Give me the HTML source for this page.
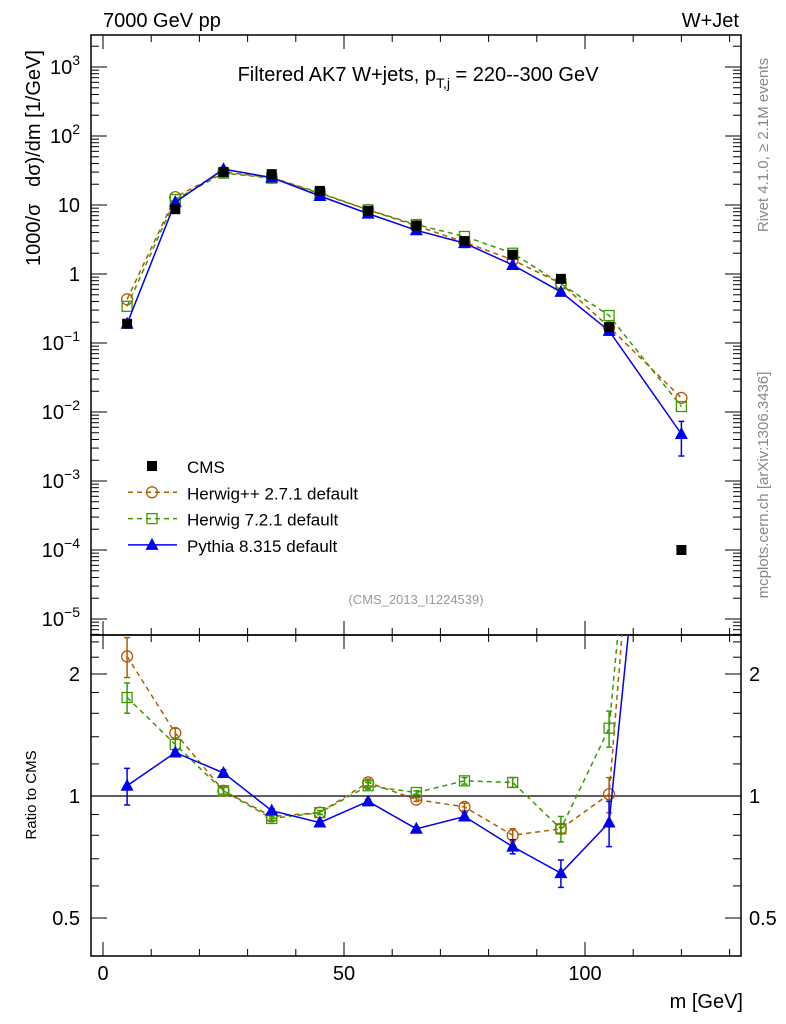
<!DOCTYPE html>
<html><head><meta charset="utf-8">
<style>
html,body{margin:0;padding:0;background:#fff;}
svg{display:block;font-family:"Liberation Sans",Arial,sans-serif;}
</style></head>
<body>
<svg id="chart" width="786" height="1024" viewBox="0 0 786 1024" xmlns="http://www.w3.org/2000/svg">
<defs>
<clipPath id="clipMain"><rect x="91" y="35" width="650" height="600"/></clipPath>
<clipPath id="clipRatio"><rect x="91" y="635" width="650" height="321"/></clipPath>
</defs>
<text x="103" y="27" font-size="20">7000 GeV pp</text>
<text x="739" y="27" font-size="20" text-anchor="end">W+Jet</text>
<text x="418" y="81" font-size="20" text-anchor="middle">Filtered AK7 W+jets, p<tspan font-size="14" dy="7">T,j</tspan><tspan dy="-7"> = 220--300 GeV</tspan></text>
<text transform="translate(40,158) rotate(-90)" font-size="20" text-anchor="middle">1000/σ&#160;&#160;&#160;dσ)/dm [1/GeV]</text>
<text transform="translate(36,795) rotate(-90)" font-size="15" text-anchor="middle">Ratio to CMS</text>
<text x="743" y="1008" font-size="20" text-anchor="end">m [GeV]</text>
<text transform="translate(768,145) rotate(-90)" font-size="15" fill="#888" text-anchor="middle">Rivet 4.1.0, ≥ 2.1M events</text>
<text transform="translate(768,485) rotate(-90)" font-size="15" fill="#888" text-anchor="middle">mcplots.cern.ch [arXiv:1306.3436]</text>
<text x="416" y="604" font-size="13" fill="#999" text-anchor="middle">(CMS_2013_I1224539)</text>
<g id="axes"></g>
<g id="mainmarks" clip-path="url(#clipMain)"></g>
<g id="ratiomarks" clip-path="url(#clipRatio)"></g>
<g id="legend"></g>
</svg>
<script>
const xCenters=[5,15,25,35,45,55,65,75,85,95,105,120];
const cmsVals=[0.19,8.7,30,28,16,8.2,5.0,3.0,1.9,0.85,0.17,0.0001];
const hppVals=[0.43,13,30,25,15,8.5,5.0,2.9,1.6,0.73,0.17,0.016];
const h7Vals=[0.34,12,29,24.5,14.7,8.5,5.2,3.5,2.0,0.72,0.25,0.012];
const pyVals=[0.19,11,33,25,13.5,7.5,4.3,2.8,1.35,0.55,0.15,0.0048];
const pyValsErr=[0,0,0,0,0,0,0,0,0,0,0.02,0.0025];
const hppRatio=[2.21,1.43,1.03,0.89,0.91,1.08,0.98,0.94,0.80,0.83,1.01,160];
const h7Ratio=[1.75,1.34,1.03,0.88,0.91,1.06,1.02,1.09,1.08,0.83,1.47,120];
const pyRatio=[1.06,1.28,1.14,0.92,0.86,0.97,0.83,0.89,0.75,0.645,0.86,48];
const pyRatioErr=[0.11,0.02,0.02,0.01,0.01,0.01,0.01,0.02,0.03,0.05,0.11,0];
const hppRatioErr=[0.25,0.04,0.02,0.01,0.01,0.02,0.01,0.02,0.03,0.02,0.1,0];
const h7RatioErr=[0.15,0.04,0.02,0.01,0.01,0.02,0.01,0.02,0.03,0.06,0.15,0];
const xTickLabels=[0,50,100];
const ratioTickLabels=[0.5,1,2];

const NS="http://www.w3.org/2000/svg";
const X=v=>103+v*4.82;
const Y=v=>274-69*Math.log10(v);
const R=v=>796-122*Math.log2(v);
function mk(parent,tag,attrs){const e=document.createElementNS(NS,tag);for(const k in attrs)e.setAttribute(k,attrs[k]);parent.appendChild(e);return e;}
const axes=document.getElementById('axes');
const mm=document.getElementById('mainmarks');
const rm=document.getElementById('ratiomarks');
const lg=document.getElementById('legend');

let f1=mk(axes,'rect',{x:91,y:35,width:650,height:600,fill:'none',stroke:'#000','stroke-width':1.5});


let f2=mk(axes,'rect',{x:91,y:635,width:650,height:321,fill:'none',stroke:'#000','stroke-width':1.5});



for(let v=0;v<=130;v+=10){
  const major=v%50===0, L=major?14:7;
  for(const [top,bot] of [[35,635],[635,956]]){
    mk(axes,'line',{x1:X(v),x2:X(v),y1:top,y2:top+L,stroke:'#000'});
    mk(axes,'line',{x1:X(v),x2:X(v),y1:bot,y2:bot-L,stroke:'#000'});
  }
}
xTickLabels.forEach(v=>{
  const t=mk(axes,'text',{x:X(v),y:980,'font-size':20,'text-anchor':'middle'});
  
  
  t.textContent=v;
});
for(let d=-6;d<=3;d++){
  for(let m=1;m<=9;m++){
    const v=m*Math.pow(10,d),y=Y(v);
    if(y<35||y>635)continue;
    const L=m===1?16:8;
    mk(axes,'line',{x1:91,x2:91+L,y1:y,y2:y,stroke:'#000'});
    mk(axes,'line',{x1:741,x2:741-L,y1:y,y2:y,stroke:'#000'});
  }
  const y=Y(Math.pow(10,d));
  if(y<35||y>635)continue;
  const t=mk(axes,'text',{x:80,y:y+7,'font-size':20,'text-anchor':'end'});
  
  
  if(d===0)t.textContent='1';else if(d===1)t.textContent='10';
  else{t.textContent='10';const s=mk(t,'tspan',{'font-size':14,dy:-9});s.textContent=d<0?'−'+(-d):String(d);}
}
[0.5,0.6,0.7,0.8,0.9,1,1.2,1.4,1.6,1.8,2,2.2,2.4].forEach(v=>{
  const y=R(v),L=(v===0.5||v===1||v===2)?16:8;
  mk(axes,'line',{x1:91,x2:91+L,y1:y,y2:y,stroke:'#000'});
  mk(axes,'line',{x1:741,x2:741-L,y1:y,y2:y,stroke:'#000'});
});
ratioTickLabels.forEach(v=>{
  for(const [x,a] of [[80,'end'],[749,'start']]){
    const t=mk(axes,'text',{x:x,y:R(v)+7,'font-size':20,'text-anchor':a});
    
    
    t.textContent=v;
  }
});
let ref=mk(axes,'line',{x1:91,x2:741,y1:R(1),y2:R(1),stroke:'#000','stroke-width':1.2});



function marker(g,type,x,y,color){
  if(type==='sq-fill')return mk(g,'rect',{x:x-5,y:y-5,width:10,height:10,fill:'#000'});
  if(type==='circ')return mk(g,'circle',{cx:x,cy:y,r:5.5,fill:'none',stroke:color,'stroke-width':1.3});
  if(type==='sq')return mk(g,'rect',{x:x-5,y:y-5,width:10,height:10,fill:'none',stroke:color,'stroke-width':1.3});
  return mk(g,'polygon',{points:`${x},${y-7} ${x-6.5},${y+5} ${x+6.5},${y+5}`,fill:color});
}
function errbar(g,x,y1,y2,color,name){
  const l=mk(g,'path',{d:`M${x},${y1}V${y2}M${x-3},${y1}h6M${x-3},${y2}h6`,stroke:color,'stroke-width':1.5,fill:'none'});
  
  
}
const series=[
  {name:'herwigpp',vals:hppVals,ratio:hppRatio,rerr:hppRatioErr,color:'#b35a00',dash:'5,4',m:'circ'},
  {name:'herwig7',vals:h7Vals,ratio:h7Ratio,rerr:h7RatioErr,color:'#3a9a00',dash:'5,4',m:'sq'},
  {name:'pythia',vals:pyVals,ratio:pyRatio,rerr:pyRatioErr,color:'#0000ee',dash:null,m:'tri'}
];
series.forEach(s=>{
  const g=mk(mm,'g',{});
  
  
  const pl=mk(g,'polyline',{points:xCenters.map((x,i)=>X(x)+','+Y(s.vals[i])).join(' '),fill:'none',stroke:s.color,'stroke-width':1.5});
  if(s.dash)pl.setAttribute('stroke-dasharray',s.dash);
  xCenters.forEach((x,i)=>{const p=marker(g,s.m,X(x),Y(s.vals[i]),s.color);
    
    });
  const gr=mk(rm,'g',{});
  
  
  const pr=mk(gr,'polyline',{points:xCenters.map((x,i)=>X(x)+','+R(s.ratio[i])).join(' '),fill:'none',stroke:s.color,'stroke-width':1.5});
  if(s.dash)pr.setAttribute('stroke-dasharray',s.dash);
  xCenters.forEach((x,i)=>{
    const e=s.rerr[i];
    if(e)errbar(gr,X(x),R(s.ratio[i]+e),R(s.ratio[i]-e),s.color,s.name+'-ratio-errorbar');
    const p=marker(gr,s.m,X(x),R(s.ratio[i]),s.color);
    
    });
});
xCenters.forEach((x,i)=>{
  const e=pyValsErr[i]; if(!e)return;
  errbar(mm,X(x),Y(pyVals[i]+e),Y(Math.max(pyVals[i]-e,1e-7)),'#0000ee','pythia-errorbar');
});
const cg=mk(mm,'g',{});


xCenters.forEach((x,i)=>{const p=marker(cg,'sq-fill',X(x),Y(cmsVals[i]),'#000');
  
  });

const leg=[['CMS','sq-fill','#000',null,false],['Herwig++ 2.7.1 default','circ','#b35a00','5,4',true],['Herwig 7.2.1 default','sq','#3a9a00','5,4',true],['Pythia 8.315 default','tri','#0000ee',null,true]];
leg.forEach((e,i)=>{
  const y=466+i*26.3;
  const g=mk(lg,'g',{});
  
  
  if(e[4]){const l=mk(g,'line',{x1:128,x2:177,y1:y,y2:y,stroke:e[2],'stroke-width':1.5});if(e[3])l.setAttribute('stroke-dasharray',e[3]);}
  marker(g,e[1],152,y,e[2]);
  const t=mk(g,'text',{x:187,y:y+7,'font-size':17});
  t.textContent=e[0];
});
</script>
</body></html>
